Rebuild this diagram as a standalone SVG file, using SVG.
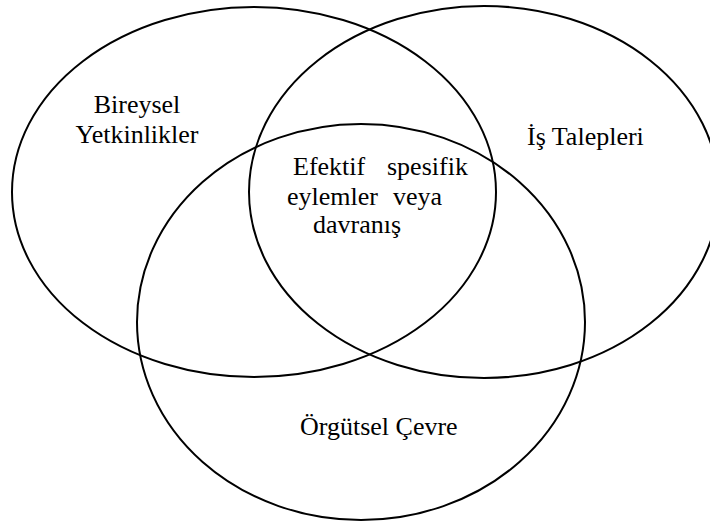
<svg xmlns="http://www.w3.org/2000/svg" width="710" height="529" viewBox="0 0 710 529">
<style>
.c{fill:none;stroke:#000;stroke-width:2}
.t{font-family:"Liberation Serif","Times New Roman",serif;font-size:26px;fill:#000}
</style>
<rect width="710" height="529" fill="#fff"/>
<g id="bireysel">
<ellipse class="c" cx="254" cy="192" rx="242" ry="185"/>
<text class="t" x="137" y="113" text-anchor="middle">Bireysel</text>
<text class="t" x="137" y="143" text-anchor="middle">Yetkinlikler</text>
</g>
<g id="is-talepleri">
<ellipse class="c" cx="484" cy="192" rx="235" ry="186"/>
<text class="t" x="527" y="145">İş Talepleri</text>
</g>
<g id="orgutsel-cevre">
<ellipse class="c" cx="361" cy="322" rx="224" ry="198"/>
<text class="t" x="300" y="435">Örgütsel Çevre</text>
</g>
<g id="merkez">
<text class="t" x="293" y="175">Efektif</text>
<text class="t" x="387" y="175">spesifik</text>
<text class="t" x="287" y="205">eylemler</text>
<text class="t" x="393" y="205">veya</text>
<text class="t" x="313" y="233">davranış</text>
</g>
<g id="connectors"/>
</svg>
